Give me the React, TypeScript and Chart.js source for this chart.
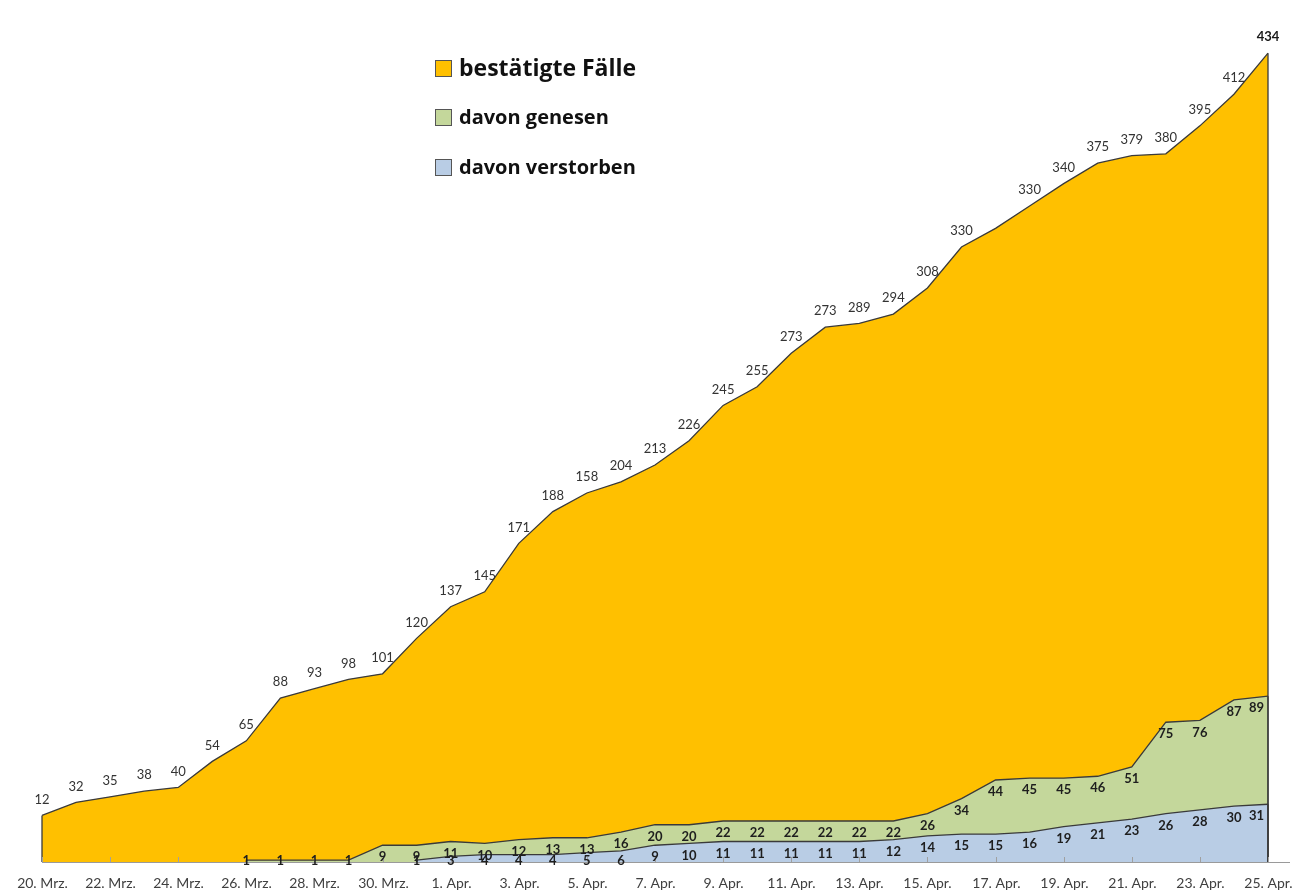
import React, { useEffect, useRef } from 'react';
import { Chart, registerables } from 'chart.js';

Chart.register(...registerables);

// ---------- data ----------
const dates = [
  '20. Mrz.', '21. Mrz.', '22. Mrz.', '23. Mrz.', '24. Mrz.', '25. Mrz.', '26. Mrz.', '27. Mrz.',
  '28. Mrz.', '29. Mrz.', '30. Mrz.', '31. Mrz.',
  '1. Apr.', '2. Apr.', '3. Apr.', '4. Apr.', '5. Apr.', '6. Apr.', '7. Apr.', '8. Apr.',
  '9. Apr.', '10. Apr.', '11. Apr.', '12. Apr.', '13. Apr.', '14. Apr.', '15. Apr.', '16. Apr.',
  '17. Apr.', '18. Apr.', '19. Apr.', '20. Apr.', '21. Apr.', '22. Apr.', '23. Apr.', '24. Apr.', '25. Apr.',
];

// plotted heights of the areas
const confirmed = [
  25, 32, 35, 38, 40, 54, 65, 88, 93, 98, 101, 120,
  137, 145, 171, 188, 198, 204, 213, 226, 245, 255, 273, 287, 289, 294, 308, 330,
  340, 352, 364, 375, 379, 380, 395, 412, 434,
];

// numbers printed above the confirmed area (as they appear in the chart)
const confirmedLabels = [
  '12', '32', '35', '38', '40', '54', '65', '88', '93', '98', '101', '120',
  '137', '145', '171', '188', '158', '204', '213', '226', '245', '255', '273', '273', '289', '294', '308', '330',
  null, '330', '340', '375', '379', '380', '395', '412', '434',
];

const recovered = [
  null, null, null, null, null, null, 1, 1, 1, 1, 9, 9,
  11, 10, 12, 13, 13, 16, 20, 20, 22, 22, 22, 22, 22, 22, 26, 34,
  44, 45, 45, 46, 51, 75, 76, 87, 89,
];

const deceased = [
  null, null, null, null, null, null, null, null, null, null, null, 1,
  3, 4, 4, 4, 5, 6, 9, 10, 11, 11, 11, 11, 11, 12, 14, 15,
  15, 16, 19, 21, 23, 26, 28, 30, 31,
];

const seriesNames = ['bestätigte Fälle', 'davon genesen', 'davon verstorben'];

const COL_CONFIRMED = '#FFC000';
const COL_RECOVERED = '#C4D79B';
const COL_DECEASED = '#B9CDE5';
const LINE = '#3a3a3a';
const FONT = 'Lato, "Open Sans", sans-serif';
const LEGEND_FONT = '"Open Sans", Lato, sans-serif';

const overlayPlugin = {
  id: 'overlay',
  afterDatasetsDraw(chart: any) {
    const ctx = chart.ctx;
    const xs = chart.scales.x;
    const ys = chart.scales.y;
    const base = ys.getPixelForValue(0);
    const area = chart.chartArea;
    const lastIdx = dates.length - 1;
    ctx.save();

    // vertical edges of each area (Excel-style outline)
    ctx.strokeStyle = LINE;
    ctx.lineWidth = 1.3;
    chart.data.datasets.forEach((ds: any, di: number) => {
      const meta = chart.getDatasetMeta(di);
      const idx: number[] = [];
      ds.data.forEach((v: any, i: number) => { if (v != null) idx.push(i); });
      if (!idx.length) return;
      [idx[0], idx[idx.length - 1]].forEach((i) => {
        const p = meta.data[i];
        ctx.beginPath();
        ctx.moveTo(p.x, p.y);
        ctx.lineTo(p.x, base);
        ctx.stroke();
      });
    });

    // axis line
    ctx.strokeStyle = '#9a9a9a';
    ctx.lineWidth = 1;
    ctx.beginPath();
    ctx.moveTo(area.left, base + 0.5);
    ctx.lineTo(area.right + 22, base + 0.5);
    ctx.stroke();

    // small inward tick marks and category labels at every second date
    ctx.textAlign = 'center';
    ctx.textBaseline = 'middle';
    for (let i = 0; i < dates.length; i += 2) {
      const px = Math.round(xs.getPixelForValue(i)) + 0.5;
      ctx.strokeStyle = '#a0a0a0';
      ctx.beginPath();
      ctx.moveTo(px, base);
      ctx.lineTo(px, base - 5);
      ctx.stroke();
      ctx.fillStyle = '#404040';
      ctx.font = '14px ' + FONT;
      ctx.fillText(dates[i], px, base + 21);
    }

    // value labels
    const confMeta = chart.getDatasetMeta(2);
    confirmedLabels.forEach((t, i) => {
      if (t == null) return;
      const p = confMeta.data[i];
      const last = i === lastIdx;
      ctx.textAlign = 'center';
      ctx.font = (last ? 'bold ' : '') + '13px ' + FONT;
      ctx.fillStyle = last ? '#1a1a1a' : '#333333';
      ctx.fillText(t, p.x, p.y - 16);
    });
    const inner = (di: number, values: (number | null)[]) => {
      const meta = chart.getDatasetMeta(di);
      ctx.font = 'bold 13px ' + FONT;
      ctx.fillStyle = '#1e1e1e';
      values.forEach((v, i) => {
        if (v == null) return;
        const p = meta.data[i];
        const yy = Math.min(p.y + 12, base - 1);
        if (i === lastIdx) {
          ctx.textAlign = 'right';
          ctx.fillText(String(v), p.x - 4, yy);
        } else {
          ctx.textAlign = 'center';
          ctx.fillText(String(v), p.x, yy);
        }
      });
    };
    inner(1, recovered);
    inner(0, deceased);

    // legend
    const items = [
      { name: seriesNames[0], color: COL_CONFIRMED, y: 68, size: 23 },
      { name: seriesNames[1], color: COL_RECOVERED, y: 117, size: 20 },
      { name: seriesNames[2], color: COL_DECEASED, y: 167, size: 20 },
    ];
    ctx.textAlign = 'left';
    items.forEach((it) => {
      ctx.fillStyle = it.color;
      ctx.fillRect(435, it.y - 8, 17, 17);
      ctx.strokeStyle = '#555555';
      ctx.lineWidth = 1;
      ctx.strokeRect(435.5, it.y - 7.5, 16, 16);
      ctx.fillStyle = '#111111';
      ctx.font = 'bold ' + it.size + 'px ' + LEGEND_FONT;
      ctx.fillText(it.name, 459, it.y + 1);
    });

    ctx.restore();
  },
};

export default function App() {
  const ref = useRef<HTMLCanvasElement | null>(null);

  useEffect(() => {
    if (!ref.current) return;
    const common = {
      fill: 'origin',
      tension: 0,
      pointRadius: 0,
      pointHoverRadius: 0,
      borderColor: LINE,
      borderWidth: 1.3,
      spanGaps: false,
    };
    const chart = new Chart(ref.current, {
      type: 'line',
      data: {
        labels: dates,
        datasets: [
          { ...common, label: seriesNames[2], data: deceased, backgroundColor: COL_DECEASED },
          { ...common, label: seriesNames[1], data: recovered, backgroundColor: COL_RECOVERED },
          { ...common, label: seriesNames[0], data: confirmed, backgroundColor: COL_CONFIRMED },
        ],
      } as any,
      options: {
        animation: false,
        responsive: false,
        devicePixelRatio: 1,
        layout: { padding: { left: 42, right: 26, top: 42, bottom: 28 } },
        plugins: { legend: { display: false }, tooltip: { enabled: false } },
        scales: {
          y: { display: false, min: 0, max: 440 },
          x: {
            display: false,
            offset: false,
          },
        },
      } as any,
      plugins: [overlayPlugin],
    });
    return () => chart.destroy();
  }, []);

  return (
    <div style={{ position: 'fixed', left: 0, top: 0, width: 1294, height: 890, background: '#fff' }}>
      <canvas ref={ref} width={1294} height={890} style={{ width: 1294, height: 890, display: 'block' }} />
    </div>
  );
}
